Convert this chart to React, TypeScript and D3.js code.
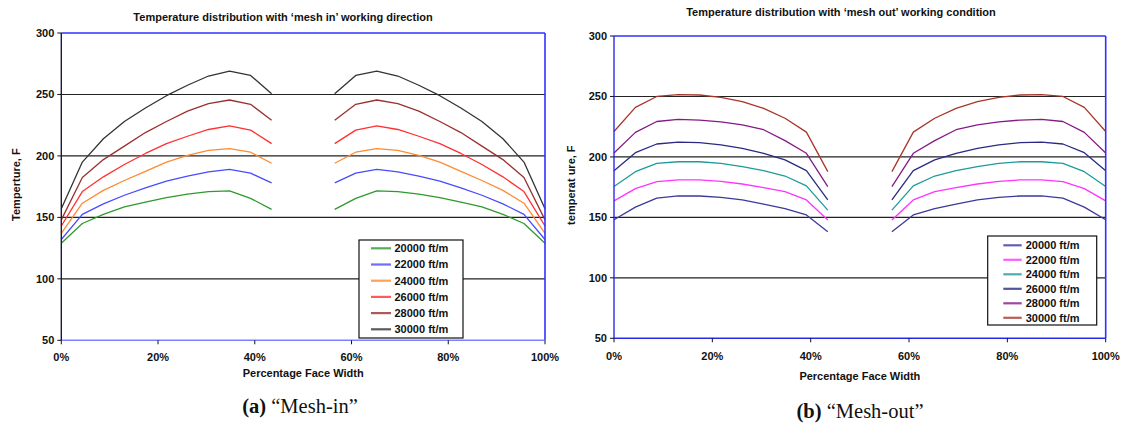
import React from "react";
import * as d3 from "d3";

// Positions across the face width (%) at which temperatures were sampled
const facePct = [
  0, 4.35, 8.7, 13.04, 17.39, 21.74, 26.09, 30.43, 34.78, 39.13, 43.48, 47.83,
  52.17, 56.52, 60.87, 65.22, 69.57, 73.91, 78.26, 82.61, 86.96, 91.3, 95.65, 100,
];

const speedLabels = ["20000 ft/m", "22000 ft/m", "24000 ft/m", "26000 ft/m", "28000 ft/m", "30000 ft/m"];

// 'mesh in' temperatures (F)
const meshIn20 = [129, 145, 152.5, 158.5, 162.5, 166, 169, 171, 171.5, 165.5, 156.5, null, null, 156.5, 165.5, 171.5, 171, 169, 166, 162.5, 158.5, 152.5, 145, 129];
const meshIn22 = [132, 152.5, 161, 168, 174, 179.5, 183.5, 187, 189, 186, 178, null, null, 178, 186, 189, 187, 183.5, 179.5, 174, 168, 161, 152.5, 132];
const meshIn24 = [137, 161.5, 172, 180, 187.5, 195, 200.5, 204.5, 206, 203, 194, null, null, 194, 203, 206, 204.5, 200.5, 195, 187.5, 180, 172, 161.5, 137];
const meshIn26 = [143, 171, 183, 193, 202, 210, 216, 221.5, 224.5, 221, 210, null, null, 210, 221, 224.5, 221.5, 216, 210, 202, 193, 183, 171, 143];
const meshIn28 = [148, 182.5, 197, 208, 219, 228, 236.5, 242.5, 245.5, 242, 229, null, null, 229, 242, 245.5, 242.5, 236.5, 228, 219, 208, 197, 182.5, 148];
const meshIn30 = [157, 195, 214, 228, 239, 249, 257.5, 265, 269, 265.5, 250.5, null, null, 250.5, 265.5, 269, 265, 257.5, 249, 239, 228, 214, 195, 157];

// 'mesh out' temperatures (F)
const meshOut20 = [148, 158.5, 166, 167.7, 167.7, 166.6, 164.4, 161, 157.2, 152, 138.2, null, null, 138.2, 152, 157.2, 161, 164.4, 166.6, 167.7, 167.7, 166, 158.5, 148];
const meshOut22 = [163.7, 173.8, 179.5, 181, 181, 179.8, 177.6, 174.6, 171.3, 164.4, 147.8, null, null, 147.8, 164.4, 171.3, 174.6, 177.6, 179.8, 181, 181, 179.5, 173.8, 163.7];
const meshOut24 = [175.5, 187.8, 194.7, 196, 196, 194.7, 192, 188.6, 184.2, 176, 156, null, null, 156, 176, 184.2, 188.6, 192, 194.7, 196, 196, 194.7, 187.8, 175.5];
const meshOut26 = [188.6, 203.5, 210.7, 212.3, 211.8, 210, 207, 203, 197.5, 188.6, 164.4, null, null, 164.4, 188.6, 197.5, 203, 207, 210, 211.8, 212.3, 210.7, 203.5, 188.6];
const meshOut28 = [203.3, 220.3, 229.3, 231, 230.5, 229, 226.5, 222.5, 213.5, 203, 175.5, null, null, 175.5, 203, 213.5, 222.5, 226.5, 229, 230.5, 231, 229.3, 220.3, 203.3];
const meshOut30 = [221, 241, 250, 251.5, 251.2, 249.3, 245.7, 240.2, 232, 220.5, 187.8, null, null, 187.8, 220.5, 232, 240.2, 245.7, 249.3, 251.2, 251.5, 250, 241, 221];

const yTicks = [50, 100, 150, 200, 250, 300];
const xTicks = [0, 20, 40, 60, 80, 100];

const meshInColors = ["#2e9a2e", "#4a4aff", "#ff8a33", "#ff3030", "#9a3030", "#333333"];
const meshOutColors = ["#3a3a9c", "#ff33ff", "#1f9a9a", "#2a2a84", "#851a85", "#a8352a"];

const FONT = "'Liberation Sans', Arial, sans-serif";
const FS = 11;

type Panel = {
  title: string;
  titleX: number;
  titleY: number;
  yLabel: string;
  yLabelX: number;
  left: number;
  right: number;
  top: number;
  bottom: number;
  series: (number | null)[][];
  colors: string[];
  leftAxisColor: string;
  bottomAxisColor: string;
  xLabelY: number;
  xTickY: number;
  legend: { x: number; y: number; w: number; h: number; first: number; step: number; lineX0: number; lineX1: number; textX: number };
};

const panels: Panel[] = [
  {
    title: "Temperature distribution with \u2018mesh in\u2019 working direction",
    titleX: 283,
    titleY: 21,
    yLabel: "Temperture, F",
    yLabelX: 20,
    left: 61.3,
    right: 545,
    top: 33,
    bottom: 340.3,
    series: [meshIn20, meshIn22, meshIn24, meshIn26, meshIn28, meshIn30],
    colors: meshInColors,
    leftAxisColor: "#1a1a40",
    bottomAxisColor: "#8080ff",
    xLabelY: 377,
    xTickY: 361,
    legend: { x: 359, y: 240, w: 104, h: 98, first: 248.3, step: 16.2, lineX0: 371, lineX1: 391, textX: 394.5 },
  },
  {
    title: "Temperature distribution with \u2018mesh out\u2019 working condition",
    titleX: 841,
    titleY: 16,
    yLabel: "temperat ure, F",
    yLabelX: 575,
    left: 614,
    right: 1105.7,
    top: 36,
    bottom: 338.3,
    series: [meshOut20, meshOut22, meshOut24, meshOut26, meshOut28, meshOut30],
    colors: meshOutColors,
    leftAxisColor: "#2a2aee",
    bottomAxisColor: "#2a2aee",
    xLabelY: 380,
    xTickY: 360,
    legend: { x: 987.7, y: 236, w: 109, h: 89, first: 245.3, step: 14.5, lineX0: 1003.3, lineX1: 1021.7, textX: 1025.7 },
  },
];

function ChartPanel({ p }: { p: Panel }) {
  const x = d3.scaleLinear().domain([0, 100]).range([p.left, p.right]);
  const y = d3.scaleLinear().domain([50, 300]).range([p.bottom, p.top]);
  const line = d3
    .line<number | null>()
    .defined((d) => d != null)
    .x((_, i) => x(facePct[i]))
    .y((d) => y(d as number));
  const lg = p.legend;
  return (
    <g>
      <text x={p.titleX} y={p.titleY} textAnchor="middle" fontFamily={FONT} fontWeight="bold" fontSize={FS} fill="#111">
        {p.title}
      </text>
      {/* horizontal gridlines */}
      {yTicks.slice(1, -1).map((t) => (
        <line key={t} x1={p.left} x2={p.right} y1={y(t)} y2={y(t)} stroke="#222" strokeWidth={1.1} />
      ))}
      {/* series */}
      {p.series.map((s, i) => (
        <path key={i} d={line(s) || ""} fill="none" stroke={p.colors[i]} strokeWidth={1.3} strokeLinejoin="round" />
      ))}
      {/* plot frame */}
      <line x1={p.left} x2={p.right} y1={p.top} y2={p.top} stroke="#3030ff" strokeWidth={1.6} />
      <line x1={p.right} x2={p.right} y1={p.top} y2={p.bottom} stroke="#3030ff" strokeWidth={1.6} />
      <line x1={p.left} x2={p.right} y1={p.bottom} y2={p.bottom} stroke={p.bottomAxisColor} strokeWidth={1.6} />
      <line x1={p.left} x2={p.left} y1={p.top} y2={p.bottom} stroke={p.leftAxisColor} strokeWidth={1.4} />
      {/* y axis ticks */}
      {yTicks.map((t) => (
        <g key={t}>
          <line x1={p.left - 4} x2={p.left} y1={y(t)} y2={y(t)} stroke="#111" strokeWidth={1} />
          <text x={p.left - 7} y={y(t) + 3.9} textAnchor="end" fontFamily={FONT} fontWeight="bold" fontSize={FS} fill="#111">
            {t}
          </text>
        </g>
      ))}
      {/* x axis ticks */}
      {xTicks.map((t) => (
        <g key={t}>
          <line x1={x(t)} x2={x(t)} y1={p.bottom} y2={p.bottom + 4} stroke="#111" strokeWidth={1} />
          <text x={x(t)} y={p.xTickY} textAnchor="middle" fontFamily={FONT} fontWeight="bold" fontSize={FS} fill="#111">
            {t + "%"}
          </text>
        </g>
      ))}
      <text x={(p.left + p.right) / 2} y={p.xLabelY} textAnchor="middle" fontFamily={FONT} fontWeight="bold" fontSize={FS} fill="#111">
        Percentage Face Width
      </text>
      <text
        transform={`translate(${p.yLabelX},${(p.top + p.bottom) / 2 - 2}) rotate(-90)`}
        textAnchor="middle"
        fontFamily={FONT}
        fontWeight="bold"
        fontSize={FS}
        fill="#111"
      >
        {p.yLabel}
      </text>
      {/* legend */}
      <rect x={lg.x} y={lg.y} width={lg.w} height={lg.h} fill="#fff" stroke="#111" strokeWidth={1.2} />
      {speedLabels.map((lab, i) => (
        <g key={lab}>
          <line x1={lg.lineX0} x2={lg.lineX1} y1={lg.first + i * lg.step} y2={lg.first + i * lg.step} stroke={p.colors[i]} strokeWidth={2.2} opacity={0.8} />
          <text x={lg.textX} y={lg.first + i * lg.step + 3.9} fontFamily={FONT} fontWeight="bold" fontSize={FS} fill="#111">
            {lab}
          </text>
        </g>
      ))}
    </g>
  );
}

export default function App() {
  return (
    <svg width={1128} height={430} style={{ position: "absolute", left: 0, top: 0, background: "#fff" }}>
      <rect width={1128} height={430} fill="#fff" />
      {panels.map((p, i) => (
        <ChartPanel key={i} p={p} />
      ))}
      <text x={300} y={413} textAnchor="middle" fontFamily="'Liberation Serif', 'DejaVu Serif', serif" fontSize={20.5} fill="#111">
        <tspan fontWeight="bold">(a)</tspan> {"\u201CMesh-in\u201D"}
      </text>
      <text x={860} y={418} textAnchor="middle" fontFamily="'Liberation Serif', 'DejaVu Serif', serif" fontSize={20.5} fill="#111">
        <tspan fontWeight="bold">(b)</tspan> {"\u201CMesh-out\u201D"}
      </text>
    </svg>
  );
}
